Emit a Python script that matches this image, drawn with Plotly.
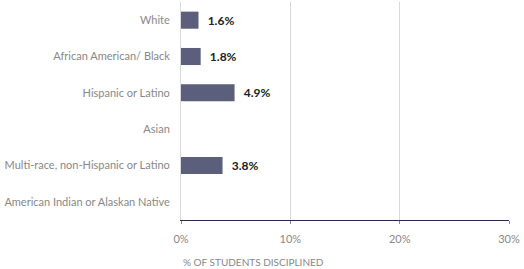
import plotly.graph_objects as go

categories = ["White", "African American/ Black", "Hispanic or Latino", "Asian",
              "Multi-race, non-Hispanic or Latino", "American Indian or Alaskan Native"]
values = [1.6, 1.8, 4.9, None, 3.8, None]
labels = ["1.6%", "1.8%", "4.9%", "", "3.8%", ""]
tick_vals = [0, 10, 20, 30]
tick_text = ["0%", "10%", "20%", "30%"]

fig = go.Figure()
fig.add_trace(go.Bar(
    y=categories, x=[v if v is not None else 0 for v in values], orientation="h",
    marker=dict(color="#5b5f7b", line=dict(width=0)),
    text=labels, textposition="outside", cliponaxis=False,
    textfont=dict(family="Lato", size=12, color="#222222"),
    texttemplate="  <b>%{text}</b>",
))
fig.update_layout(
    width=524, height=269,
    margin=dict(l=181, r=15, t=2, b=49),
    paper_bgcolor="white", plot_bgcolor="white",
    bargap=0.53, showlegend=False,
    font=dict(family="Lato", size=11, color="#888888"),
    xaxis=dict(range=[0, 30], tickvals=tick_vals, ticktext=tick_text,
               showgrid=True, gridcolor="#d9d9d9", gridwidth=1,
               showline=True, linecolor="#2a2a4a", linewidth=1,
               ticks="outside", ticklen=3, tickcolor="#888888",
               ticklabelstandoff=6,
               tickfont=dict(family="Lato", size=11, color="#888888"),
               zeroline=False, fixedrange=True),
    yaxis=dict(autorange="reversed", showline=True, linecolor="#d9d9d9", linewidth=1,
               ticks="", ticklabelstandoff=8,
               tickfont=dict(family="Lato", size=11, color="#888888"),
               showgrid=False, fixedrange=True),
    annotations=[dict(text="% OF STUDENTS DISCIPLINED", xref="paper", yref="paper",
                      x=0, y=-0.193, xanchor="left", yanchor="middle", showarrow=False,
                      font=dict(family="Lato", size=10, color="#888888"))],
)
fig.write_html("out.html")
